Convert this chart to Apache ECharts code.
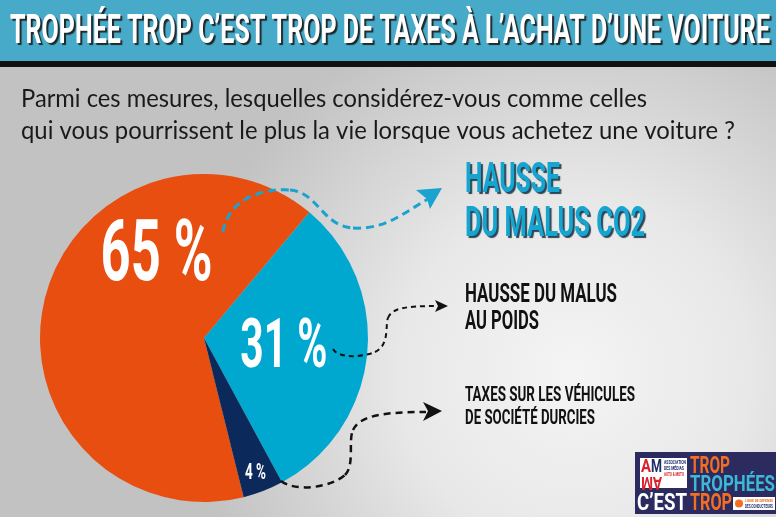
<!DOCTYPE html>
<html>
<head>
<meta charset="utf-8">
<script src="https://cdn.jsdelivr.net/npm/echarts@6/dist/echarts.min.js"></script>
<style>html,body{margin:0;padding:0;background:#d8d8d8;}#c{width:776px;height:517px;}</style>
</head>
<body>
<div id="c"></div>
<script>
// ---- data ----
const categories = ['Hausse du malus CO2', 'Hausse du malus au poids', 'Taxes sur les véhicules de société durcies'];
const values = [65, 31, 4];
const categoryLines = [['HAUSSE', 'DU MALUS CO2'], ['HAUSSE DU MALUS', 'AU POIDS'], ['TAXES SUR LES VÉHICULES', 'DE SOCIÉTÉ DURCIES']];
const titleText = 'TROPHÉE TROP C’EST TROP DE TAXES À L’ACHAT D’UNE VOITURE';
const questionLines = ['Parmi ces mesures, lesquelles considérez-vous comme celles', 'qui vous pourrissent le plus la vie lorsque vous achetez une voiture ?'];

// ---- styles ----
const sliceColors = ['#E84E10', '#00A8CF', '#0B2A5B'];
const labelSizes = [86, 68, 22];
const labelWidths = [112, 87, 21];
const labelShift = [[58, -60], [-8, 3], [34, 56]];
const COND = 'Roboto, "DejaVu Sans Condensed", sans-serif';

const mctx = document.createElement('canvas').getContext('2d');
function fitScale(text, font, w) { mctx.font = font; const m = mctx.measureText(text).width; return m > 0 ? w / m : 1; }
function txt(text, x, yc, size, weight, family, fill, targetW, extra, z) {
  const font = weight + ' ' + size + 'px ' + family;
  return {
    type: 'text', x: x, y: yc, scaleX: fitScale(text, font, targetW), z: z || 50, silent: true,
    style: Object.assign({ text: text, font: font, fill: fill, align: 'left', textAlign: 'left', verticalAlign: 'middle', textVerticalAlign: 'middle' }, extra || {})
  };
}
function curve(p, color, width, dash) {
  return { type: 'bezierCurve', z: 100, silent: true,
    shape: { x1: p[0], y1: p[1], cpx1: p[2], cpy1: p[3], cpx2: p[4], cpy2: p[5], x2: p[6], y2: p[7] },
    style: { stroke: color, lineWidth: width, lineDash: dash, fill: null } };
}
function head(pts, color) {
  return { type: 'polygon', z: 100, silent: true, shape: { points: pts }, style: { fill: color } };
}

const blueShadow = { textShadowColor: 'rgba(10,40,60,0.85)', textShadowOffsetX: 2, textShadowOffsetY: 2, textShadowBlur: 1 };
const graphics = [
  // background
  { type: 'rect', z: -10, silent: true, shape: { x: 0, y: 0, width: 776, height: 517 },
    style: { fill: new echarts.graphic.RadialGradient(0.74, 0.72, 0.75, [
      { offset: 0, color: '#f4f4f4' }, { offset: 0.45, color: '#e8e8e8' }, { offset: 1, color: '#c2c2c2' }]) } },
  // header band
  { type: 'rect', z: 1, silent: true, shape: { x: 0, y: 0, width: 776, height: 61 }, style: { fill: '#46AAC8' } },
  { type: 'rect', z: 1, silent: true, shape: { x: 0, y: 61, width: 776, height: 6 }, style: { fill: '#111111' } },
  txt(titleText, 10, 33, 41, 'bold', COND, '#ffffff', 760, { textShadowColor: 'rgba(25,25,25,0.9)', textShadowOffsetX: 2, textShadowOffsetY: 2, textShadowBlur: 1 }),
  // question
  txt(questionLines[0], 21, 99, 25, 'normal', 'Lato, sans-serif', '#1a1a1a', 626),
  txt(questionLines[1], 21, 131, 25, 'normal', 'Lato, sans-serif', '#1a1a1a', 714),
  // right labels
  txt(categoryLines[0][0], 465, 181, 42, 'bold', COND, '#14A6D1', 95, blueShadow),
  txt(categoryLines[0][1], 465, 225, 42, 'bold', COND, '#14A6D1', 180, blueShadow),
  txt(categoryLines[1][0], 465, 296, 25, 'bold', COND, '#111111', 152),
  txt(categoryLines[1][1], 465, 323, 25, 'bold', COND, '#111111', 74),
  txt(categoryLines[2][0], 465, 395.5, 21, 'bold', COND, '#111111', 170),
  txt(categoryLines[2][1], 465, 418.5, 21, 'bold', COND, '#111111', 130),
  // blue dashed arrow
  curve([223, 232, 228, 200, 260, 188, 290, 190], '#1AA3CF', 3, [8, 5]),
  curve([290, 190, 318, 192, 322, 226, 353, 228], '#1AA3CF', 3, [8, 5]),
  curve([353, 228, 385, 230, 405, 212, 428, 199], '#1AA3CF', 3, [8, 5]),
  head([[416, 190], [442, 188], [430, 209], [427, 199]], '#1AA3CF'),
  // black dashed arrow 1
  curve([333, 349, 338, 358, 360, 358, 375, 352], '#111', 2, [5, 4]),
  curve([375, 352, 390, 345, 385, 325, 388, 318], '#111', 2, [5, 4]),
  curve([388, 318, 392, 308, 405, 306, 438, 306], '#111', 2, [5, 4]),
  head([[435, 300], [448, 306], [435, 312], [438, 306]], '#111'),
  // black dashed arrow 2
  curve([281, 481, 295, 492, 330, 488, 345, 475], '#111', 2.5, [7, 5]),
  curve([345, 475, 355, 465, 348, 440, 353, 430], '#111', 2.5, [7, 5]),
  curve([353, 430, 360, 415, 385, 412, 426, 412], '#111', 2.5, [7, 5]),
  head([[423, 402], [442, 411], [423, 421], [428, 411]], '#111'),
  // logo
  { type: 'rect', z: 60, silent: true, shape: { x: 635, y: 452, width: 141, height: 62 }, style: { fill: '#2C2B60' } },
  { type: 'rect', z: 61, silent: true, shape: { x: 640, y: 458, width: 47, height: 30 }, style: { fill: '#ffffff' } },
  txt('A', 641, 467, 18, 'bold', COND, '#D9232D', 10, null, 62),
  txt('M', 651, 467, 18, 'bold', COND, '#1C2D6B', 11, null, 62),
  Object.assign(txt('AM', 662, 481, 18, 'bold', COND, '#D9232D', 21, null, 62), { rotation: Math.PI }),
  txt('ASSOCIATION', 664, 463, 5, 'bold', COND, '#1C2D6B', 22, null, 62),
  txt('DES MÉDIAS', 664, 469, 5, 'bold', COND, '#1C2D6B', 20, null, 62),
  txt('AUTO & MOTO', 664, 475, 5, 'bold', COND, '#D9232D', 20, null, 62),
  txt('TROP', 690, 466.5, 24, 'bold', COND, '#F36E21', 40, null, 62),
  txt('TROPHÉES', 690, 485, 22.5, 'bold', COND, '#3DB8D6', 85, null, 62),
  txt('C’EST', 637, 503.5, 24, 'bold', COND, '#ffffff', 50, null, 62),
  txt('TROP', 690, 503.5, 24, 'bold', COND, '#F36E21', 42, null, 62),
  { type: 'rect', z: 61, silent: true, shape: { x: 733, y: 497, width: 42, height: 13 }, style: { fill: '#ffffff' } },
  { type: 'circle', z: 62, silent: true, shape: { cx: 739, cy: 503.5, r: 4 }, style: { fill: '#F36E21' } },
  txt('LIGUE DE DÉFENSE', 745, 500.5, 4, 'bold', COND, '#F36E21', 28, null, 63),
  txt('DES CONDUCTEURS', 745, 506.5, 4.5, 'bold', COND, '#1C2D6B', 28, null, 63)
];

const chart = echarts.init(document.getElementById('c'), null, { renderer: 'canvas' });
chart.setOption({
  animation: false,
  graphic: { elements: graphics },
  series: [{
    type: 'pie',
    center: [204, 338],
    radius: 164,
    startAngle: -76,
    clockwise: true,
    silent: true,
    emphasis: { disabled: true },
    labelLine: { show: false },
    label: {
      show: true, position: 'inside', color: '#ffffff', fontFamily: 'Roboto', fontWeight: 'bold',
      formatter: function (p) { return p.value + ' %'; }
    },
    labelLayout: function (params) {
      const s = labelShift[params.dataIndex];
      return { dx: s[0], dy: s[1] };
    },
    data: values.map(function (v, i) {
      return { name: categories[i], value: v, itemStyle: { color: sliceColors[i] }, label: { fontSize: labelSizes[i] } };
    })
  }]
});

// compress the condensed pie labels horizontally
try {
  const data = chart.getModel().getSeriesByIndex(0).getData();
  values.forEach(function (v, i) {
    const el = data.getItemGraphicEl(i);
    const label = el && el.getTextContent();
    if (label) {
      const font = 'bold ' + labelSizes[i] + 'px Roboto';
      label.scaleX = fitScale(v + ' %', font, labelWidths[i]);
      label.markRedraw();
      el.markRedraw();
    }
  });
  chart.getZr().refresh();
} catch (e) { }
</script>
</body>
</html>
